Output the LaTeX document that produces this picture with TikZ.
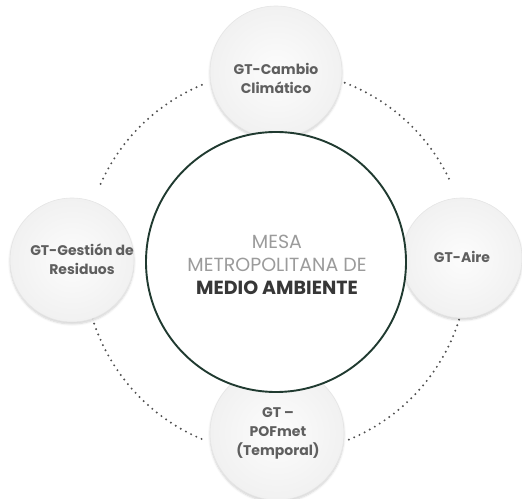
\documentclass[tikz,border=0pt]{standalone}
\usepackage{fontspec}
\setmainfont{Poppins}
\usetikzlibrary{calc,shadows.blur}
\definecolor{ringcol}{RGB}{32,58,48}
\definecolor{labgray}{RGB}{95,95,95}
\definecolor{lightgray}{RGB}{155,155,155}
\definecolor{darkgray}{RGB}{55,55,55}
\definecolor{dotcol}{RGB}{80,80,80}
\tikzset{
  wg/.style={circle, draw=gray!20, line width=0.6pt, inner color=gray!2, outer color=gray!11,
    blur shadow={shadow xshift=0pt, shadow yshift=-2pt, shadow blur steps=6, shadow opacity=18},
    inner sep=0pt},
  wglabel/.style={align=center, text=labgray, font=\fontsize{14}{19}\selectfont\bfseries},
  mesa/.style={circle, draw=ringcol, line width=1.9pt, fill=white, minimum size=260pt,
    inner sep=0pt},
  dotarc/.style={draw=dotcol, line width=2.2pt, line cap=round, dash pattern=on 0pt off 5.8pt}
}
\begin{document}
\begin{tikzpicture}[x=1pt,y=1pt]
\useasboundingbox (0,0) rectangle (522,498);
\coordinate (c) at (276,236);
% dotted ring segments
\draw[dotarc] ($(c)+(156:192)$) arc[start angle=156, end angle=112, radius=192];
\draw[dotarc] ($(c)+(69:192)$) arc[start angle=69, end angle=25, radius=192];
\draw[dotarc] ($(c)+(-17.5:192)$) arc[start angle=-17.5, end angle=-69, radius=192];
\draw[dotarc] ($(c)+(197:192)$) arc[start angle=197, end angle=248.5, radius=192];
% working groups
\node[wg, minimum size=132pt] (top) at (276,426) {};
\node[wg, minimum size=124pt] (left) at (72,238) {};
\node[wg, minimum size=120pt] (right) at (462,240) {};
\node[wg, minimum size=134pt] (bottom) at (277,65) {};
% central table
\node[mesa] (main) at (c) {};
% labels
\node[wglabel] (ttop) at (276,419.5) {GT-Cambio\\Climático};
\node[wglabel] (tleft) at (82,238.5) {GT-Gestión de\\Residuos};
\node[wglabel] (tright) at (462,241) {GT-Aire};
\node[wglabel] (tbottom) at (278,64.5) {GT –\\POFmet\\(Temporal)};
\node[align=center, font=\fontsize{19}{23}\selectfont] (tmain) at (277,233)
  {\textcolor{lightgray}{MESA}\\\textcolor{lightgray}{METROPOLITANA DE}\\\textcolor{darkgray}{\bfseries MEDIO AMBIENTE}};
\end{tikzpicture}
\end{document}
